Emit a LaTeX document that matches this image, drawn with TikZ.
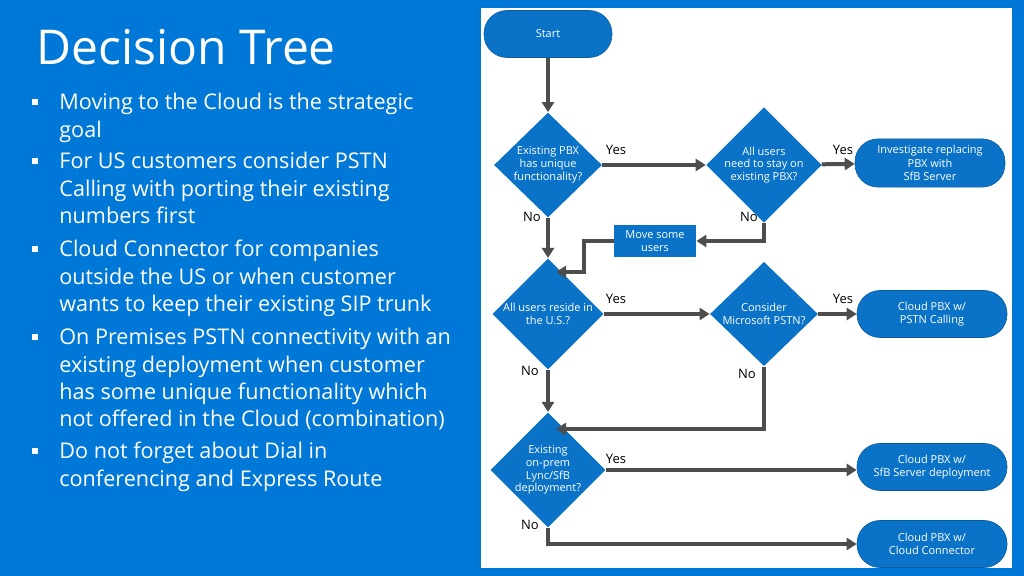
\documentclass[tikz,border=0pt]{standalone}
\usepackage{fontspec}
\setmainfont{Open Sans}
\usetikzlibrary{shapes.geometric,arrows.meta,positioning}
\definecolor{msblue}{HTML}{0078D7}
\definecolor{boxblue}{HTML}{0A73C8}
\definecolor{linegray}{HTML}{4D4D4D}
\begin{document}
\begin{tikzpicture}[
    x=0.5pt, y=-0.5pt,
    decision/.style={diamond, fill=boxblue, text=white, inner sep=0pt, minimum width=54pt, minimum height=46pt, align=center, font=\fontsize{5.5}{6.4}\selectfont},
    terminal/.style={rectangle, rounded corners=11.5pt, fill=boxblue, draw=boxblue!80!black, line width=0.3pt, text=white, minimum width=75pt, minimum height=23.5pt, align=center, font=\fontsize{5.5}{6.6}\selectfont},
    action/.style={rectangle, fill=boxblue, text=white, minimum width=41pt, minimum height=16pt, inner sep=1pt, align=center, font=\fontsize{5.5}{6.4}\selectfont},
    arrow/.style={line width=2pt, draw=linegray, -{Triangle[length=5pt,width=6pt]}},
    answer/.style={font=\fontsize{6.5}{7}\selectfont, text=black},
    point/.style={anchor=north west, text=white, align=left, font=\fontsize{10.8}{13.6}\selectfont, inner sep=0pt},
    bullet/.style={fill=white, minimum size=3pt, inner sep=0pt}
]
% Background and panel
\fill[msblue] (0,0) rectangle (1024,576);
\fill[white] (481,8) rectangle (1012,568);
% Title and bullet points
\node[anchor=west, text=white, font=\fontsize{24}{28}\selectfont, inner sep=0pt] (title) at (36,47) {Decision Tree};
\foreach \y/\txt [count=\i] in {102/{Moving to the Cloud is the strategic\\goal},
    161/{For US customers consider PSTN\\Calling with porting their existing\\numbers first},
    249/{Cloud Connector for companies\\outside the US or when customer\\wants to keep their existing SIP trunk},
    337/{On Premises PSTN connectivity with an\\existing deployment when customer\\has some unique functionality which\\not offered in the Cloud (combination)},
    451/{Do not forget about Dial in\\conferencing and Express Route}} {
  \node[bullet] (b\i) at (35,\y) {};
  \node[point] (p\i) at (59,\y-9) {\txt};
}
% Flowchart nodes
\node[terminal, minimum width=64pt] (start) at (548,34) {Start};
\node[decision] (pbx) at (548,165) {Existing PBX\\has unique\\functionality?};
\node[decision] (stay) at (764,165) {All users\\need to stay on\\existing PBX?};
\node[terminal] (invest) at (930,163) {Investigate replacing\\PBX with\\SfB Server};
\node[action] (move) at (655,241) {Move some\\users};
\node[decision] (us) at (548,314) {All users reside in\\the U.S.?};
\node[decision] (msp) at (764,314) {Consider\\Microsoft PSTN?};
\node[terminal] (pstn) at (932,314) {Cloud PBX w/\\PSTN Calling};
\node[decision] (lync) at (548,470) {Existing\\on-prem\\Lync/SfB\\deployment?};
\node[terminal] (sfb) at (932,467) {Cloud PBX w/\\SfB Server deployment};
\node[terminal] (cc) at (932,544) {Cloud PBX w/\\Cloud Connector};
\coordinate (usin) at (556,272);
\coordinate (lyncin) at (556,429);
% Arrows
\draw[arrow] (start) -- (pbx);
\draw[arrow] (pbx) -- (stay);
\draw[arrow] (stay) -- (invest);
\draw[arrow] (stay.south) |- (move);
\draw[arrow] (move.west) -- ++(-30,0) |- (usin);
\draw[arrow] (pbx) -- (us);
\draw[arrow] (us) -- (msp);
\draw[arrow] (msp) -- (pstn);
\draw[arrow] (us) -- (lync);
\draw[arrow] (msp.south) |- (lyncin);
\draw[arrow] (lync) -- (sfb.west |- lync);
\draw[arrow] (lync.south) |- (cc);
% Answers
\node[answer] (y1) at (616,150) {Yes};
\node[answer] (y2) at (843,150) {Yes};
\node[answer] (y3) at (616,299) {Yes};
\node[answer] (y4) at (843,299) {Yes};
\node[answer] (y5) at (616,459) {Yes};
\node[answer] (n1) at (532,217) {No};
\node[answer] (n2) at (749,217) {No};
\node[answer] (n3) at (530,371) {No};
\node[answer] (n4) at (747,374) {No};
\node[answer] (n5) at (530,525) {No};
\end{tikzpicture}
\end{document}
